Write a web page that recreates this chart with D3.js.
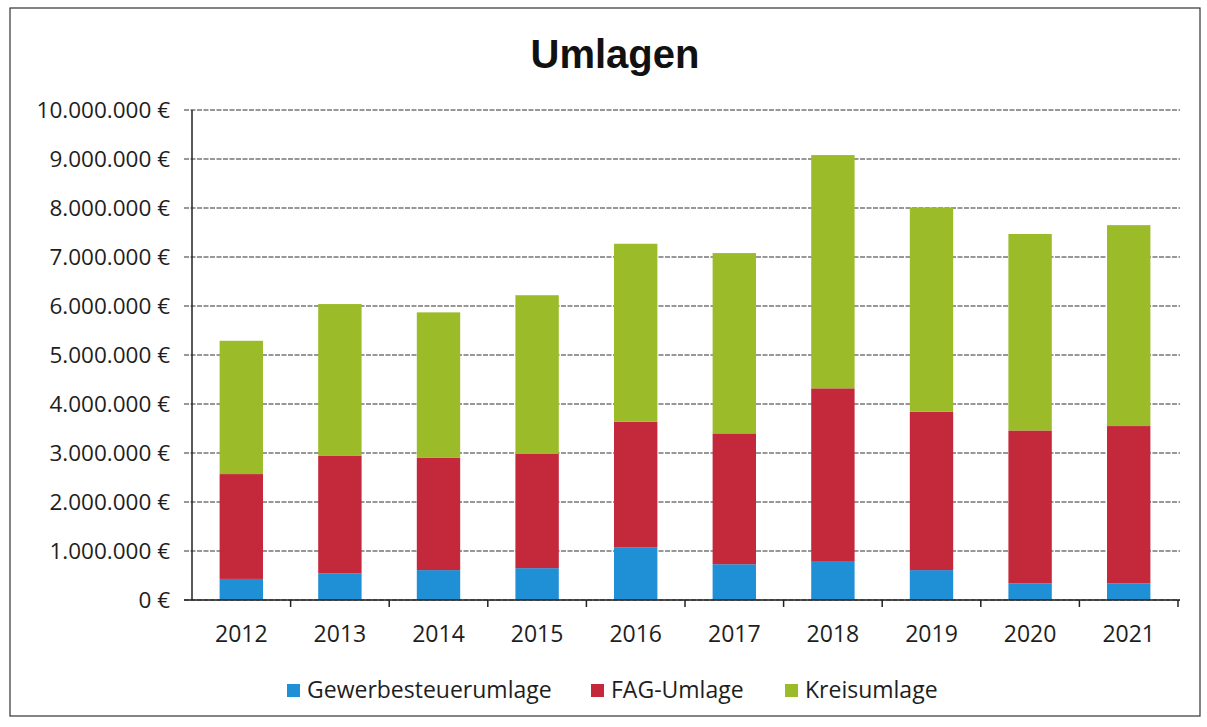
<!DOCTYPE html>
<html>
<head>
<meta charset="utf-8">
<script src="https://cdn.jsdelivr.net/npm/d3@7"></script>
<style>
  body { margin: 0; background: #fff; }
  text { font-family: "Open Sans", "Noto Sans", sans-serif; fill: #1e1e1e; }
  .title { font-family: "Liberation Sans", Arial, sans-serif; font-weight: bold; fill: #111; }
</style>
</head>
<body>
<script>
// data
var years = ["2012", "2013", "2014", "2015", "2016", "2017", "2018", "2019", "2020", "2021"];
var gewerbe = [430000, 540000, 610000, 650000, 1070000, 730000, 780000, 610000, 340000, 340000];
var fag = [2140000, 2400000, 2290000, 2330000, 2570000, 2670000, 3540000, 3230000, 3120000, 3210000];
var kreis = [2720000, 3100000, 2970000, 3240000, 3630000, 3680000, 4760000, 4170000, 4010000, 4100000];
var seriesNames = ["Gewerbesteuerumlage", "FAG-Umlage", "Kreisumlage"];
var seriesColors = ["#1f8fd6", "#c3283b", "#9cbb29"];
var yTicks = [0, 1e6, 2e6, 3e6, 4e6, 5e6, 6e6, 7e6, 8e6, 9e6, 10e6];

var w = 1207, h = 727;

var svg = d3.select("body").append("svg")
    .attr("width", w)
    .attr("height", h);

// outer frame
svg.append("rect")
    .attr("x", 10).attr("y", 8)
    .attr("width", 1190).attr("height", 708)
    .attr("fill", "#fff")
    .attr("stroke", "#333")
    .attr("stroke-width", 1.2);

// title
svg.append("text")
    .attr("class", "title")
    .attr("x", 615)
    .attr("y", 68)
    .attr("text-anchor", "middle")
    .style("font-size", "40px")
    .text("Umlagen");

// table for the stack
var rows = years.map(function(y, i){
    return { year: y, Gewerbesteuerumlage: gewerbe[i], "FAG-Umlage": fag[i], Kreisumlage: kreis[i] };
});
var stacked = d3.stack().keys(seriesNames)(rows);

// scales
var x = d3.scaleBand()
    .domain(years)
    .range([192, 1178])
    .paddingInner(0.56)
    .paddingOuter(0.28);

var xTick = d3.scaleBand()
    .domain(years)
    .range([192, 1178]);

var y = d3.scaleLinear()
    .domain([0, 10000000])
    .range([600, 110]);

var color = d3.scaleOrdinal().domain(seriesNames).range(seriesColors);

var de = d3.formatLocale({ decimal: ",", thousands: ".", grouping: [3], currency: ["", " €"] });
var fmt = de.format(",.0f");

// gridlines
svg.append("g")
    .selectAll("line")
    .data(yTicks)
    .enter()
    .append("line")
    .attr("x1", 184)
    .attr("x2", 1180)
    .attr("y1", function(d){ return y(d); })
    .attr("y2", function(d){ return y(d); })
    .attr("stroke", "#333")
    .attr("stroke-width", 1.2)
    .attr("stroke-dasharray", "5,1.5");

// y labels
svg.append("g")
    .selectAll("text")
    .data(yTicks)
    .enter()
    .append("text")
    .attr("x", 170)
    .attr("y", function(d){ return y(d); })
    .attr("dy", "0.35em")
    .attr("text-anchor", "end")
    .style("font-size", "22.5px")
    .text(function(d){ return fmt(d) + " €"; });

// bars
svg.append("g")
    .selectAll("g")
    .data(stacked)
    .enter()
    .append("g")
    .attr("fill", function(d){ return color(d.key); })
    .selectAll("rect")
    .data(function(d){ return d; })
    .enter()
    .append("rect")
    .attr("x", function(d){ return x(d.data.year); })
    .attr("y", function(d){ return y(d[1]); })
    .attr("width", x.bandwidth())
    .attr("height", function(d){ return y(d[0]) - y(d[1]); });

// y axis line
svg.append("line")
    .attr("x1", 192).attr("x2", 192)
    .attr("y1", 110).attr("y2", 600)
    .attr("stroke", "#222")
    .attr("stroke-width", 1.5);

// x axis baseline + ticks between categories
svg.append("line")
    .attr("x1", 184).attr("x2", 1180)
    .attr("y1", 600).attr("y2", 600)
    .attr("stroke", "#222")
    .attr("stroke-width", 1.5);

svg.append("g")
    .selectAll("line")
    .data(years)
    .enter()
    .append("line")
    .attr("x1", function(d){ return xTick(d) + xTick.bandwidth(); })
    .attr("x2", function(d){ return xTick(d) + xTick.bandwidth(); })
    .attr("y1", 600)
    .attr("y2", 607)
    .attr("stroke", "#222")
    .attr("stroke-width", 1.5);

// x labels
svg.append("g")
    .selectAll("text")
    .data(years)
    .enter()
    .append("text")
    .attr("x", function(d){ return x(d) + x.bandwidth() / 2; })
    .attr("y", 642)
    .attr("text-anchor", "middle")
    .style("font-size", "23px")
    .text(function(d){ return d; });

// legend
var legendX = [287, 591, 785];
var legend = svg.append("g")
    .selectAll("g")
    .data(seriesNames)
    .enter()
    .append("g")
    .attr("transform", function(d, i){ return "translate(" + legendX[i] + ",0)"; });

legend.append("rect")
    .attr("x", 0)
    .attr("y", 684)
    .attr("width", 13)
    .attr("height", 13)
    .attr("fill", function(d){ return color(d); });

legend.append("text")
    .attr("x", 20)
    .attr("y", 698)
    .style("font-size", "23px")
    .text(function(d){ return d; });
</script>
</body>
</html>
